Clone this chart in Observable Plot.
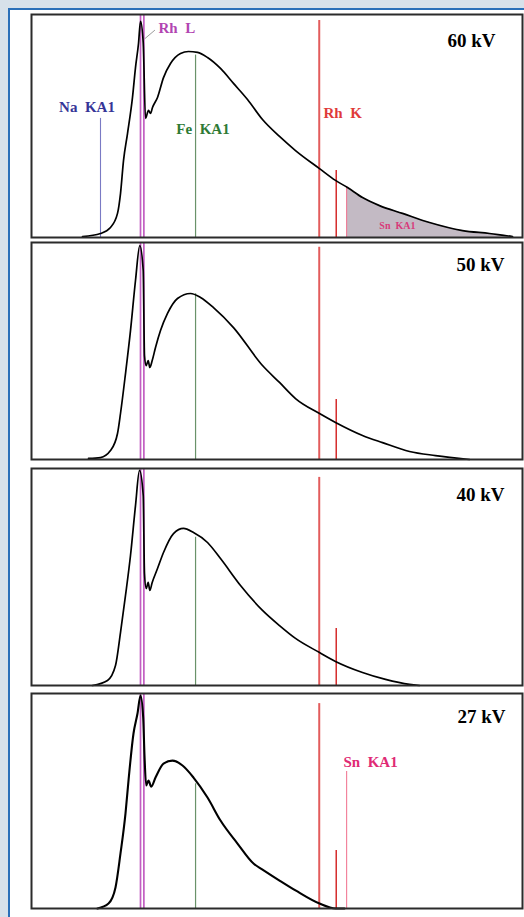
<!DOCTYPE html>
<html><head><meta charset="utf-8">
<script src="https://cdn.jsdelivr.net/npm/d3@7"></script>
<script src="https://cdn.jsdelivr.net/npm/@observablehq/plot@0.6"></script>
<style>
html,body{margin:0;padding:0;background:#d7e1ea;width:524px;height:917px;overflow:hidden;position:relative;}
#box{position:absolute;left:8px;top:8px;width:540px;height:940px;border:2px solid #2a6fb8;background:#fff;box-sizing:border-box;}
.panel{position:absolute;left:29px;}
.panel svg{display:block;overflow:visible;}
.panel svg text{white-space:pre;}
</style></head><body>
<div id="box"></div>
<div id="p0" class="panel" style="top:12px"></div>
<div id="p1" class="panel" style="top:240px"></div>
<div id="p2" class="panel" style="top:466px"></div>
<div id="p3" class="panel" style="top:691px"></div>
<script>
// Panel titles (tube voltage)
const kV = ["60 kV", "50 kV", "40 kV", "27 kV"];

// Spectra: [energy keV, relative intensity %]
const spectrum60 = [[0.539,0.4],[1.040,1.8],[1.389,4.5],[1.664,10.8],[1.789,19.7],[1.919,34.5],[2.099,46.6],[2.335,62.8],[2.483,76.2],[2.636,87.0],[2.740,96.9],[2.884,87.4],[3.009,53.4],[3.177,57.0],[3.291,55.6],[3.407,58.3],[3.707,62.8],[4.083,71.7],[4.545,78.0],[5.247,82.5],[5.846,83.4],[6.558,83.0],[7.396,80.7],[8.562,75.8],[9.814,69.1],[11.256,61.9],[12.912,52.9],[14.926,45.3],[16.954,39.0],[20.239,30.9],[22.591,25.6],[24.439,22.4],[26.852,17.9],[29.723,14.3],[33.841,10.8],[39.015,6.7],[45.840,3.1],[51.830,1.8],[57.225,0.4]];
const spectrum50 = [[0.688,0.5],[1.040,0.9],[1.389,4.1],[1.664,12.0],[1.789,21.2],[2.008,39.6],[2.239,59.4],[2.483,82.5],[2.703,98.6],[2.884,87.1],[2.954,47.9],[3.048,43.3],[3.160,45.6],[3.251,42.4],[3.390,45.6],[3.586,51.6],[3.893,59.4],[4.344,67.3],[5.031,74.2],[6.000,76.5],[6.804,74.7],[7.924,70.0],[9.814,60.8],[12.912,43.3],[14.926,35.5],[16.954,28.1],[20.239,21.2],[22.591,17.1],[26.852,11.1],[30.246,7.8],[35.147,3.7],[40.215,1.8],[47.357,0]];
const spectrum40 = [[0.797,0],[1.279,2.3],[1.583,9.2],[1.789,24.4],[2.008,41.5],[2.239,59.9],[2.483,82.9],[2.688,99.1],[2.884,87.6],[2.954,51.6],[3.048,44.7],[3.160,47.5],[3.251,43.8],[3.390,47.5],[3.707,53.9],[4.083,61.3],[4.750,70.0],[5.468,72.4],[6.236,70.5],[7.396,65.9],[8.562,58.5],[10.523,46.1],[12.912,34.6],[14.926,27.6],[16.954,21.7],[20.239,15.2],[22.591,11.1],[26.852,6.0],[30.773,2.8],[35.147,0.5],[37.056,0]];
const spectrum27 = [[0.945,0],[1.315,2.3],[1.583,9.8],[1.789,25.6],[2.008,44.2],[2.145,59.5],[2.384,81.4],[2.584,90.7],[2.740,99.1],[2.884,88.8],[2.954,71.2],[3.048,57.2],[3.177,59.5],[3.332,56.7],[3.586,60.9],[4.083,67.4],[4.681,68.8],[5.394,66.5],[6.236,60.9],[7.396,51.6],[8.562,40.9],[10.216,30.2],[11.905,20.9],[12.912,18.1],[14.926,13.0],[16.954,8.4],[20.239,2.3],[22.591,0],[23.970,0]];
const spectra = [spectrum60, spectrum50, spectrum40, spectrum27];

// Line energies (keV, as placed in the picture)
const naE = 1.04;
const rhLE = [2.74, 2.92];
const feE = 6.40;
const rhKaE = 20.2;
const rhKbE = 22.7;
const snE = 24.3;

// Line heights per panel (relative intensity %)
const naTop = 53.4;
const feTop = [81.8, 76.4, 68.3, 58.0];
const rhKaTop = [97.3, 97.8, 95.9, 95.3];
const rhKbTop = [30.0, 27.6, 26.3, 27.0];
const snTop60 = 22.9;
const snTop27 = 63.7;

// Label positions (keV, %)
const labels60 = [
  {t: "Na  KA1", E: 0.649, I: 56.5, key: "na", anchor: "middle"},
  {t: "Rh  L", E: 3.77, I: 91.5, key: "rhl", anchor: "start"},
  {t: "Fe  KA1", E: 7.01, I: 46.6, key: "fe", anchor: "middle"},
  {t: "Rh  K", E: 20.81, I: 53.4, key: "rhk", anchor: "start"},
  {t: "Sn  KA1", E: 32.9, I: 3.6, key: "snSmall", anchor: "middle"}
];
const labels27 = [
  {t: "Sn  KA1", E: 23.81, I: 65.7, key: "sn", anchor: "start"}
];
const leader = [{x1: 2.95, y1: 89, x2: 3.55, y2: 93}];

// Styles
const heights = [223, 217, 217, 215];
const titleDx = [-27, -18, -18, -17];
const titleDy = [32, 28, 32, 29.7];
const colors = {na: "#353597", naLine: "#7a7ac4", rhl: "#b245b2", rhlLine: "#c25ec2",
  fe: "#2f7a35", feLine: "#6a926a", rhk: "#e03a3a", rhkaLine: "#e25c5c", rhkbLine: "#d52b2b",
  sn: "#e02a74", snSmall: "#d83a7a", snLine: "#f27b96", fill: "#c3bac4"};
const sizes = {na: 15, rhl: 15, fe: 15, rhk: 15, sn: 15, snSmall: 10};

function labelMarks(arr) {
  return arr.map(d => Plot.text([d], {
    x: "E", y: "I", text: "t", fill: colors[d.key], fontSize: sizes[d.key], fontWeight: "bold",
    textAnchor: d.anchor, lineAnchor: "bottom",
    ...(d.key === "fe" ? {stroke: "white", strokeWidth: 5} : {})
  }));
}

function makePanel(i) {
  const data = spectra[i].map(([E, I]) => ({E, I}));
  const marks = [];
  if (i === 0) {
    const fillData = [{E: snE, I: snTop60}].concat(data.filter(d => d.E > snE));
    marks.push(Plot.areaY(fillData, {x: "E", y: "I", fill: colors.fill, curve: "monotone-x"}));
    marks.push(Plot.ruleX([{E: naE, top: naTop}], {x: "E", y1: () => 0, y2: "top", stroke: colors.naLine, strokeWidth: 1.1}));
    marks.push(Plot.ruleX([{E: snE, top: snTop60}], {x: "E", y1: () => 0, y2: "top", stroke: colors.snLine, strokeWidth: 1.1}));
  }
  if (i === 3) {
    marks.push(Plot.ruleX([{E: snE, top: snTop27}], {x: "E", y1: () => 0, y2: "top", stroke: colors.snLine, strokeWidth: 1.1}));
  }
  marks.push(Plot.ruleX([{E: feE, top: feTop[i]}], {x: "E", y1: () => 0, y2: "top", stroke: colors.feLine, strokeWidth: 1.2}));
  marks.push(Plot.ruleX(rhLE, {y1: () => 0, y2: () => 100, stroke: colors.rhlLine, strokeWidth: 1.7}));
  marks.push(Plot.ruleX([{E: rhKaE, top: rhKaTop[i]}], {x: "E", y1: () => 0, y2: "top", stroke: colors.rhkaLine, strokeWidth: 2}));
  marks.push(Plot.ruleX([{E: rhKbE, top: rhKbTop[i]}], {x: "E", y1: () => 0, y2: "top", stroke: colors.rhkbLine, strokeWidth: 1.5}));
  marks.push(Plot.line(data, {x: "E", y: "I", stroke: "#000", strokeWidth: i === 3 ? 2.1 : 1.7, strokeLinejoin: "round", curve: "monotone-x"}));
  if (i === 0) {
    marks.push(Plot.link(leader, {x1: "x1", y1: "y1", x2: "x2", y2: "y2", stroke: "#9a9a9a", strokeWidth: 1}));
    marks.push(...labelMarks(labels60));
  }
  if (i === 3) marks.push(...labelMarks(labels27));
  marks.push(Plot.text([kV[i]], {frameAnchor: "top-right", text: d => d, dx: titleDx[i], dy: titleDy[i],
    textAnchor: "end", lineAnchor: "bottom", fontSize: 19, fontWeight: "bold", fill: "#000"}));
  marks.push(Plot.frame({stroke: "#2b2b2b", strokeWidth: 2}));
  return Plot.plot({
    width: 495, height: heights[i] + 4,
    marginTop: 2, marginBottom: 2, marginLeft: 2, marginRight: 2,
    x: {type: "sqrt", domain: [0, 59.65], insetLeft: 4.8, axis: null},
    y: {domain: [0, 100], axis: null},
    style: {background: "transparent", fontFamily: "'Liberation Serif', 'Times New Roman', serif", overflow: "visible"},
    marks
  });
}

for (let i = 0; i < 4; i++) {
  document.getElementById("p" + i).appendChild(makePanel(i));
}
</script>
</body></html>
